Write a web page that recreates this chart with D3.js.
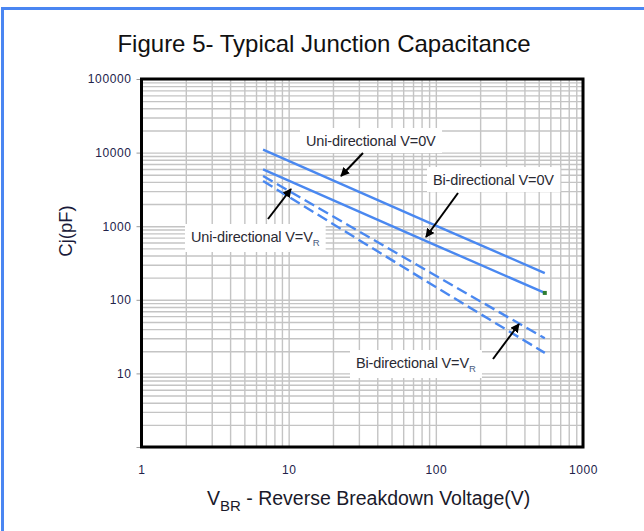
<!DOCTYPE html>
<html><head><meta charset="utf-8">
<script src="https://cdn.jsdelivr.net/npm/d3@7"></script>
<style>
html,body{margin:0;padding:0;background:#fff;}
svg{display:block;font-family:"Liberation Sans",Arial,sans-serif;}
</style></head>
<body>
<svg id="c" width="644" height="531"></svg>
<script>
// ---- data ----
const voltage = [6.7, 100, 550];           // V_BR (V)
const uniZero = [11000, 1020, 231];        // Uni-directional V=0V (pF)
const biZero  = [5900, 550, 124];          // Bi-directional V=0V (pF)
const uniVR   = [4800, 212, 30];           // Uni-directional V=VR (pF)
const biVR    = [4100, 149, 19];           // Bi-directional V=VR (pF)
const xTickLabels = [1, 10, 100, 1000];
const yTickLabels = [10, 100, 1000, 10000, 100000];

const svg = d3.select("#c");
const L = 141.5, R = 583, T = 79, B = 447;

// outer frame
svg.append("rect").attr("x",2.5).attr("y",8.5).attr("width",700).attr("height",600)
  .attr("fill","none").attr("stroke","#4a86f2").attr("stroke-width",3);

const x = d3.scaleLog().domain([1,1000]).range([L,R]);
const y = d3.scaleLog().domain([1,100000]).range([B,T]);

// gridlines
const gx = svg.append("g").attr("transform",`translate(0,${B})`)
  .call(d3.axisBottom(x).tickValues(x.ticks()).tickSize(-(B-T)).tickFormat(""));
gx.select(".domain").remove();
gx.selectAll("line").attr("stroke","#c4c4c4").attr("stroke-width",1.4);

const gy = svg.append("g").attr("transform",`translate(${L},0)`)
  .call(d3.axisLeft(y).tickValues(y.ticks()).tickSize(-(R-L)).tickFormat(""));
gy.select(".domain").remove();
gy.selectAll("line").attr("stroke","#c4c4c4").attr("stroke-width",1.4);

// y tick labels + stubs
const ya = svg.append("g").attr("transform",`translate(${L},0)`)
  .call(d3.axisLeft(y).tickValues([1].concat(yTickLabels)).tickSize(5).tickPadding(5)
    .tickFormat(d => d === 1 ? "" : String(d)));
ya.select(".domain").remove();
ya.selectAll("line").attr("stroke","#999").attr("stroke-width",1);
ya.selectAll("text").attr("font-size",12).attr("letter-spacing","0.6").attr("fill","#22224a")
  .attr("font-family","Liberation Sans, Arial, sans-serif");

// x tick labels
const xa = svg.append("g").attr("transform",`translate(0,${B})`)
  .call(d3.axisBottom(x).tickValues(xTickLabels).tickSize(0).tickPadding(18)
    .tickFormat(d => String(d)));
xa.select(".domain").remove();
xa.selectAll("text").attr("font-size",12).attr("letter-spacing","0.6").attr("fill","#22224a")
  .attr("font-family","Liberation Sans, Arial, sans-serif");

// plot border
svg.append("rect").attr("x",L).attr("y",T).attr("width",R-L).attr("height",B-T)
  .attr("fill","none").attr("stroke","#000").attr("stroke-width",3);

// series
const line = d3.line().x(d => x(d[0])).y(d => y(d[1]));
const blue = "#4a88f0";
const series = [
  {vals: uniZero, dash: null},
  {vals: biZero,  dash: null},
  {vals: uniVR,   dash: "11,5"},
  {vals: biVR,    dash: "11,5"}
];
series.forEach(s => {
  svg.append("path").datum(voltage.map((v,i)=>[v,s.vals[i]]))
    .attr("d", line).attr("fill","none").attr("stroke",blue)
    .attr("stroke-width",2.4).attr("stroke-dasharray", s.dash);
});
// green end marker on bi-directional V=0V
svg.append("rect")
  .attr("x", x(voltage[2]) - 2).attr("y", y(biZero[2]) - 2)
  .attr("width",4).attr("height",4).attr("fill","#2e7d32");

// arrow marker
svg.append("defs").append("marker").attr("id","ah").attr("viewBox","0 0 10 10")
  .attr("refX",9).attr("refY",5).attr("markerWidth",4.5).attr("markerHeight",4.5)
  .attr("orient","auto").attr("markerUnits","strokeWidth")
  .append("path").attr("d","M0,0L10,5L0,10z").attr("fill","#000");

// annotations
const notes = [
  {text:"Uni-directional V=0V", sub:null, tx:306, ty:146, x1:363, y1:153, x2:341, y2:176},
  {text:"Bi-directional V=0V",  sub:null, tx:433, ty:185, x1:458, y1:193, x2:426, y2:237},
  {text:"Uni-directional V=V",  sub:"R",  tx:191, ty:242, x1:268, y1:219, x2:291, y2:189},
  {text:"Bi-directional V=V",   sub:"R",  tx:356, ty:368, x1:493, y1:359, x2:519, y2:324}
];
notes.forEach(n => {
  const g = svg.append("g");
  const bg = g.append("rect").attr("fill","#fff");
  const t = g.append("text").attr("x",n.tx).attr("y",n.ty)
    .attr("font-size",14.5).attr("fill","#2a2a33").attr("letter-spacing","-0.15");
  t.append("tspan").text(n.text);
  if (n.sub) t.append("tspan").attr("dy",4).attr("font-size",9.5).attr("fill","#4a5a80").text(n.sub);
  const bb = t.node().getBBox();
  bg.attr("x",bb.x-6).attr("y",bb.y-5).attr("width",bb.width+12).attr("height",bb.height+9);
  svg.append("line").attr("x1",n.x1).attr("y1",n.y1).attr("x2",n.x2).attr("y2",n.y2)
    .attr("stroke","#000").attr("stroke-width",2).attr("marker-end","url(#ah)");
});

// title
svg.append("text").attr("x",324).attr("y",52).attr("text-anchor","middle")
  .attr("font-size",24).attr("fill","#111").text("Figure 5- Typical Junction Capacitance");

// y label
svg.append("text").attr("transform","translate(72,231) rotate(-90)").attr("text-anchor","middle")
  .attr("font-size",18.5).attr("fill","#1a1a3a").text("Cj(pF)");

// x label
const xl = svg.append("text").attr("x",207).attr("y",505).attr("font-size",19.5).attr("fill","#1a1a2a");
xl.append("tspan").text("V");
xl.append("tspan").attr("dy",6).attr("font-size",15).text("BR");
xl.append("tspan").attr("dy",-6).text(" - Reverse Breakdown Voltage(V)");
</script>
</body></html>
